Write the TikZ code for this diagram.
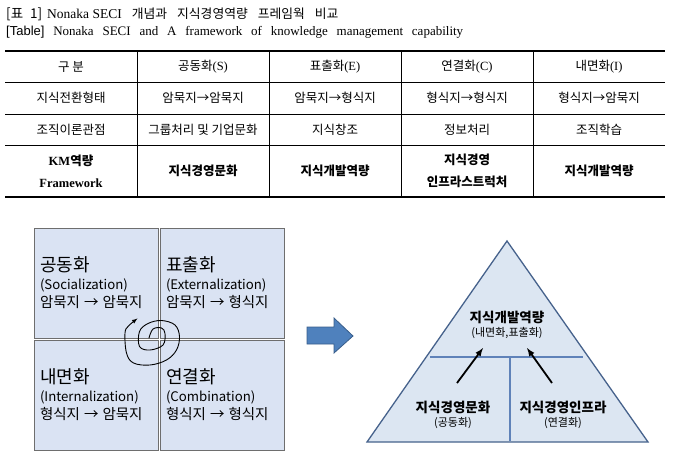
\documentclass[tikz,border=0pt]{standalone}
\usepackage{fontspec}
\setmainfont{Liberation Serif}
\setsansfont{Liberation Sans}
\newfontfamily\kr{Noto Sans CJK KR}
\usepackage{xcolor}
\usepackage{tikz}
\usetikzlibrary{calc}
\usetikzlibrary{arrows}
\usetikzlibrary{arrows.meta}
\usetikzlibrary{positioning}
\tikzset{>=latex}
\definecolor{boxfill}{RGB}{218,227,243}
\definecolor{boxline}{RGB}{110,110,110}
\definecolor{trifill}{RGB}{220,230,242}
\definecolor{triline}{RGB}{70,98,140}
\definecolor{divline}{RGB}{95,130,185}
\definecolor{arrfill}{RGB}{79,129,189}
\definecolor{arrline}{RGB}{56,93,138}
\tikzstyle{cell} = [inner sep=0pt, align=center, font=\fontsize{12.5}{22}\selectfont]
\tikzstyle{kcell} = [inner sep=0pt, align=center, font=\kr\bfseries\fontsize{12.5}{22}\selectfont]
\tikzstyle{quad} = [rectangle, draw=boxline, fill=boxfill, minimum height=110pt, text width=112pt, inner xsep=6pt, align=left, font=\kr\fontsize{12}{18}\selectfont]
\tikzstyle{tri} = [inner sep=0pt, font=\kr\bfseries\fontsize{13.5}{16}\selectfont]
\tikzstyle{trisub} = [inner sep=0pt, font=\kr\fontsize{11}{13}\selectfont]
\newcommand{\quadtext}[3]{{\fontsize{18}{20}\selectfont #1}\\ {\fontsize{13.2}{15}\selectfont #2}\\ {\fontsize{14.5}{16}\selectfont #3}}
\newcommand{\gap}{\hspace{10pt}}

\begin{document}
\begin{tikzpicture}[x=1pt, y=-1pt]
\useasboundingbox (0,0) rectangle (699,461);
% caption
\node [anchor=west, inner sep=0pt, font=\fontsize{13.5}{14}\selectfont] (cap1) at (6,14) {{\kr\fontsize{13.5}{14}\selectfont [표\hspace{7pt}1]}\hspace{5pt}Nonaka SECI\gap{\kr\fontsize{12.8}{14}\selectfont 개념과\gap 지식경영역량\gap 프레임웍\gap 비교}};
\node [anchor=west, inner sep=0pt, font=\fontsize{13}{14}\selectfont] (cap2) at (6,32) {\hbox to 457pt{{\sffamily [Table]} Nonaka SECI and A framework of knowledge management capability}};
% table rules
\draw [line width=1.6pt] (5,51) -- (665,51);
\draw [line width=1.6pt] (5,197) -- (665,197);
\draw [line width=1pt] (5,82) -- (665,82);
\draw [line width=0.9pt] (5,114) -- (665,114);
\draw [line width=0.9pt] (5,145) -- (665,145);
\draw [line width=0.8pt] (137,51) -- (137,197);
\draw [line width=0.8pt] (269,51) -- (269,197);
\draw [line width=0.8pt] (401,51) -- (401,197);
\draw [line width=0.8pt] (533,51) -- (533,197);
% table text
\node [cell] (h0) at (71,67) {\kr 구 분};
\node [cell] (h1) at (203,67) {{\kr 공동화}(S)};
\node [cell] (h2) at (335,67) {{\kr 표출화}(E)};
\node [cell] (h3) at (467,67) {{\kr 연결화}(C)};
\node [cell] (h4) at (599,67) {{\kr 내면화}(I)};
\node [cell] (t0) at (71,98) {\kr 지식전환형태};
\node [cell] (t1) at (203,98) {\kr 암묵지→암묵지};
\node [cell] (t2) at (335,98) {\kr 암묵지→형식지};
\node [cell] (t3) at (467,98) {\kr 형식지→형식지};
\node [cell] (t4) at (599,98) {\kr 형식지→암묵지};
\node [cell] (p0) at (71,130) {\kr 조직이론관점};
\node [cell] (p1) at (203,130) {\kr 그룹처리 및 기업문화};
\node [cell] (p2) at (335,130) {\kr 지식창조};
\node [cell] (p3) at (467,130) {\kr 정보처리};
\node [cell] (p4) at (599,130) {\kr 조직학습};
\node [cell, font=\bfseries\fontsize{12.5}{22}\selectfont] (k0) at (71,171) {KM{\kr\bfseries 역량}\\ Framework};
\node [kcell] (k1) at (203,171) {지식경영문화};
\node [kcell] (k2) at (335,171) {지식개발역량};
\node [kcell] (k3) at (467,171) {지식경영\\ 인프라스트럭처};
\node [kcell] (k4) at (599,171) {지식개발역량};
% SECI quadrants
\node [quad] (S) at (96,283) {\quadtext{공동화}{(Socialization)}{암묵지 → 암묵지}};
\node [quad] (E) at (222,283) {\quadtext{표출화}{(Externalization)}{암묵지 → 형식지}};
\node [quad] (I) at (96,395) {\quadtext{내면화}{(Internalization)}{형식지 → 암묵지}};
\node [quad] (C) at (222,395) {\quadtext{연결화}{(Combination)}{형식지 → 형식지}};
\draw [-latex, line width=0.9pt, line cap=round] plot [smooth, tension=0.6] coordinates {(149,338) (153,329) (161.5,328) (165,333.5) (163,345) (150,350) (139.5,346.5) (139.5,331.5) (148,323.5) (161.5,320.5) (175,325) (179.5,336.5) (176.5,350) (166.5,360) (150,365) (133.5,363) (126.5,353) (125,333) (128.5,326) (137.5,318.5)};
% block arrow
\draw [fill=arrfill, draw=arrline, line width=0.8pt, line join=miter] (307,327) -- (334,327) -- (334,318) -- (353,336) -- (334,353) -- (334,344) -- (307,344) -- cycle;
% pyramid
\draw [fill=trifill, draw=triline, line width=1.3pt, line join=miter] (507,241) -- (648,442) -- (367,442) -- cycle;
\draw [draw=divline, line width=1.2pt] (430,357) -- (583,357);
\draw [draw=divline, line width=1.2pt] (510,357) -- (510,441);
\node [tri] (D) at (507,317) {지식개발역량};
\node [trisub, below=4pt of D] (Dsub) {(내면화,표출화)};
\node [tri] (Cu) at (453,407) {지식경영문화};
\node [trisub, below=4pt of Cu] (Cusub) {(공동화)};
\node [tri] (In) at (563,407) {지식경영인프라};
\node [trisub, below=4pt of In] (Insub) {(연결화)};
\coordinate (a1) at (457,383);
\coordinate (b1) at (483,348);
\coordinate (a2) at (552,383);
\coordinate (b2) at (527,348);
\draw [-latex, line width=1.8pt] (a1) to (b1);
\draw [-latex, line width=1.8pt] (a2) to (b2);
\end{tikzpicture}
\end{document}
